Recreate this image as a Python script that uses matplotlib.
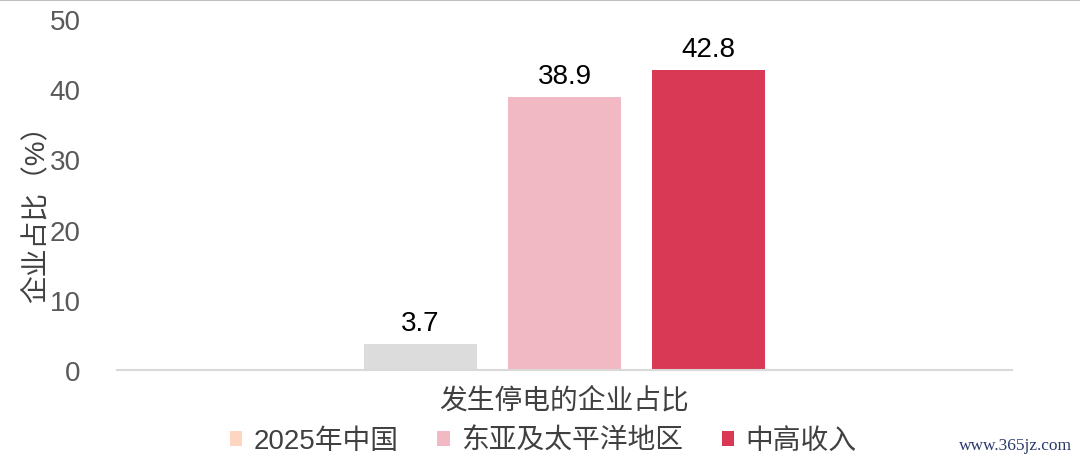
import matplotlib.pyplot as plt
from matplotlib.patches import Patch
from matplotlib.lines import Line2D

plt.rcParams['font.family'] = ['Liberation Sans', 'Noto Sans CJK SC', 'DejaVu Sans']

# data
category = '发生停电的企业占比'
series = ['2025年中国', '东亚及太平洋地区', '中高收入']
values = [3.7, 38.9, 42.8]
bar_colors = ['#DCDCDC', '#F0B9C4', '#D93954']
legend_colors = ['#FDD5C0', '#F0B9C4', '#D93954']
yticks = [0, 10, 20, 30, 40, 50]

fig = plt.figure(figsize=(10.8, 4.64), dpi=100)
ax = fig.add_axes([0.1083, 0.2004, 0.8287, 0.7565])

offsets = [-1, 0, 1]
for off, v, c in zip(offsets, values, bar_colors):
    ax.bar(off, v, width=0.785, color=c, zorder=2)
    ax.text(off, v + 1.1, f'{v:.1f}', ha='center', va='bottom',
            fontsize=20, color='#000000')

ax.set_xlim(-3.108, 3.108)
ax.set_ylim(0, 50)
ax.set_yticks(yticks)
ax.tick_params(axis='y', length=0, labelsize=20, labelcolor='#595959', pad=26)
ax.set_xticks([])
for s in ['top', 'right', 'left']:
    ax.spines[s].set_visible(False)
ax.spines['bottom'].set_color('#D9D9D9')
ax.spines['bottom'].set_linewidth(1.5)

ax.set_ylabel('企业占比（%）', fontsize=20, color='#404040')
ax.yaxis.set_label_coords(-0.076, 0.467)
ax.set_xlabel(category, fontsize=20, color='#404040', labelpad=12)

handles = [Patch(facecolor=c, edgecolor='none') for c in legend_colors]
fig.legend(handles, series, loc='lower center', ncol=3, frameon=False,
           bbox_to_anchor=(0.503, -0.035), fontsize=20, labelcolor='#404040',
           handlelength=0.45, handleheight=0.45, handletextpad=0.4,
           columnspacing=1.4)

# top border line
fig.add_artist(Line2D([0, 1], [0.998, 0.998], color='#BFBFBF', linewidth=1.5,
                      transform=fig.transFigure))

# watermark
fig.text(0.993, 0.022, 'www.365jz.com', ha='right', va='bottom', fontsize=12.5,
         color='#2B3A6B', family=['Liberation Serif', 'DejaVu Serif'])

fig.savefig('out.png', dpi=100)
